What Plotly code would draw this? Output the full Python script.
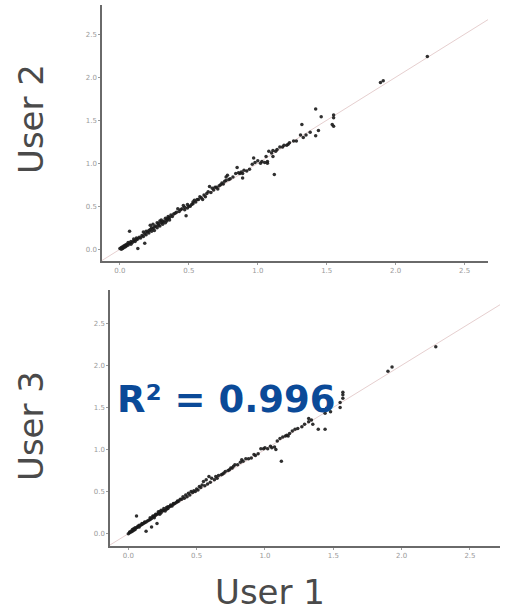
import plotly.graph_objects as go

# ---- data: top panel (User 1 vs User 2) ----
user1_a = [2.23, 1.89, 1.91, 1.42, 1.46, 1.55, 1.55, 1.54, 1.55, 1.32, 1.44, 1.42, 1.38, 1.31, 1.33,
           1.28, 1.23, 1.22, 1.19, 1.16, 1.14, 1.11, 1.08, 1.06, 1.11, 1.12, 1.00, 1.02, 1.05, 1.07,
           1.07, 0.97, 0.94, 0.92, 0.85, 0.87, 0.89, 0.89, 0.88, 0.84, 0.78, 0.77, 0.79, 0.76, 0.75,
           0.73, 0.72, 0.70, 0.68, 0.67, 0.65, 0.64, 0.63, 0.61, 0.58, 0.56, 0.54, 0.53, 0.53, 0.51,
           0.50, 0.47, 0.46, 0.44, 0.42, 0.41, 0.39, 0.48, 0.37, 0.35, 0.33, 0.30, 0.29, 0.27, 0.24,
           0.22, 0.00, 0.01, 0.01, 0.02, 0.02, 0.03, 0.03, 0.04, 0.04, 0.05, 0.05, 0.06, 0.06, 0.07,
           0.07, 0.08, 0.08, 0.09, 0.10, 0.10, 0.11, 0.12, 0.12, 0.13, 0.13, 0.14, 0.15, 0.16, 0.17,
           0.17, 0.18, 0.18, 0.19, 0.19, 0.20, 0.21, 0.21, 0.22, 0.23, 0.23, 0.24, 0.25, 0.25, 0.26,
           0.27, 0.28, 0.28, 0.29, 0.30, 0.31, 0.31, 0.32, 0.33, 0.34, 0.34, 0.35, 0.36, 0.36, 0.38,
           0.40, 0.43, 0.45, 0.47, 0.49, 0.49, 0.52, 0.55, 0.57, 0.59, 0.60, 0.62, 0.66, 0.69, 0.71,
           0.74, 0.77, 0.80, 0.82, 0.86, 0.90, 0.96, 0.98, 1.03, 1.10, 1.13, 1.18, 1.21, 1.26, 1.35]
user2 = [2.24, 1.94, 1.96, 1.63, 1.54, 1.56, 1.53, 1.45, 1.43, 1.45, 1.38, 1.32, 1.36, 1.33, 1.30,
         1.26, 1.24, 1.22, 1.21, 1.19, 1.16, 1.15, 1.14, 1.08, 1.08, 0.87, 1.03, 1.00, 1.01, 1.02,
         1.00, 1.06, 0.93, 0.91, 0.95, 0.88, 0.88, 0.83, 0.90, 0.88, 0.86, 0.84, 0.81, 0.79, 0.76,
         0.75, 0.74, 0.72, 0.69, 0.71, 0.73, 0.67, 0.65, 0.63, 0.61, 0.58, 0.57, 0.55, 0.53, 0.50,
         0.50, 0.49, 0.51, 0.46, 0.47, 0.43, 0.41, 0.39, 0.40, 0.38, 0.36, 0.34, 0.33, 0.31, 0.29,
         0.28, 0.01, 0.02, 0.00, 0.03, 0.01, 0.04, 0.02, 0.05, 0.03, 0.06, 0.04, 0.08, 0.05, 0.07,
         0.21, 0.09, 0.06, 0.08, 0.10, 0.12, 0.09, 0.11, 0.13, 0.01, 0.12, 0.14, 0.13, 0.16, 0.15,
         0.20, 0.07, 0.18, 0.21, 0.17, 0.20, 0.22, 0.19, 0.23, 0.21, 0.25, 0.24, 0.26, 0.22, 0.27,
         0.25, 0.28, 0.30, 0.27, 0.31, 0.29, 0.32, 0.33, 0.31, 0.35, 0.33, 0.36, 0.34, 0.37, 0.38,
         0.42, 0.44, 0.47, 0.46, 0.48, 0.52, 0.52, 0.55, 0.58, 0.60, 0.58, 0.61, 0.66, 0.72, 0.70,
         0.77, 0.80, 0.82, 0.84, 0.89, 0.92, 0.99, 1.01, 1.02, 1.12, 1.14, 1.19, 1.21, 1.26, 1.33]

# ---- data: bottom panel (User 1 vs User 3) ----
user1_b = [2.25, 1.90, 1.93, 1.57, 1.57, 1.57, 1.55, 1.55, 1.45, 1.48, 1.44, 1.32, 1.34, 1.32, 1.35,
           1.39, 1.44, 1.29, 1.24, 1.22, 1.20, 1.18, 1.17, 1.15, 1.13, 1.11, 1.12, 1.08, 1.07, 1.05,
           1.02, 0.99, 0.97, 0.95, 0.93, 0.90, 0.88, 0.84, 0.83, 0.78, 0.77, 0.76, 0.74, 0.71, 0.69,
           0.66, 0.64, 0.61, 0.59, 0.57, 0.55, 0.54, 0.52, 0.50, 0.48, 0.46, 0.44, 0.42, 0.41, 0.40,
           0.38, 0.36, 0.33, 0.31, 0.29, 0.26, 0.24, 0.22, 0.20, 0.18, 0.16, 0.00, 0.01, 0.01, 0.02,
           0.02, 0.03, 0.03, 0.04, 0.04, 0.05, 0.05, 0.06, 0.06, 0.07, 0.07, 0.08, 0.08, 0.09, 0.10,
           0.10, 0.11, 0.12, 0.12, 0.13, 0.13, 0.14, 0.15, 0.16, 0.17, 0.17, 0.18, 0.19, 0.19, 0.20,
           0.21, 0.21, 0.22, 0.23, 0.23, 0.24, 0.25, 0.26, 0.27, 0.28, 0.28, 0.29, 0.30, 0.31, 0.32,
           0.33, 0.34, 0.35, 0.36, 0.37, 0.39, 0.43, 0.45, 0.47, 0.49, 0.51, 0.53, 0.56, 0.58, 0.60,
           0.63, 0.65, 0.68, 0.70, 0.73, 0.75, 0.80, 0.82, 0.86, 0.92, 1.00, 1.04, 1.09, 1.16, 1.27]
user3 = [2.22, 1.93, 1.98, 1.68, 1.65, 1.61, 1.56, 1.50, 1.49, 1.45, 1.43, 1.37, 1.35, 1.33, 1.30,
         1.24, 1.24, 1.30, 1.25, 1.24, 1.22, 1.19, 1.16, 1.16, 1.15, 1.13, 0.86, 1.00, 1.03, 1.02,
         1.01, 1.01, 1.01, 0.95, 0.93, 0.90, 0.89, 0.86, 0.88, 0.82, 0.80, 0.78, 0.76, 0.74, 0.71,
         0.69, 0.68, 0.66, 0.68, 0.64, 0.62, 0.58, 0.56, 0.53, 0.51, 0.50, 0.48, 0.46, 0.42, 0.44,
         0.41, 0.39, 0.36, 0.34, 0.32, 0.30, 0.28, 0.26, 0.23, 0.21, 0.19, 0.00, 0.01, 0.02, 0.02,
         0.03, 0.03, 0.05, 0.04, 0.06, 0.05, 0.07, 0.21, 0.07, 0.08, 0.09, 0.08, 0.10, 0.10, 0.11,
         0.12, 0.12, 0.13, 0.14, 0.03, 0.14, 0.15, 0.16, 0.17, 0.08, 0.18, 0.20, 0.19, 0.21, 0.22,
         0.12, 0.23, 0.24, 0.23, 0.26, 0.25, 0.27, 0.28, 0.27, 0.29, 0.31, 0.30, 0.32, 0.33, 0.33,
         0.35, 0.36, 0.37, 0.38, 0.39, 0.41, 0.44, 0.46, 0.49, 0.50, 0.52, 0.55, 0.57, 0.59, 0.61,
         0.64, 0.66, 0.70, 0.72, 0.75, 0.78, 0.82, 0.85, 0.89, 0.94, 1.02, 1.04, 1.10, 1.17, 1.27]

identity_line = [-0.5, 3.5]
ticks = [0.0, 0.5, 1.0, 1.5, 2.0, 2.5]
tick_text = ["0.0", "0.5", "1.0", "1.5", "2.0", "2.5"]
r2_label = "R² = 0.996"

W, H = 512, 614
fig = go.Figure()

marker = dict(color="#1a1a1a", size=3.5, opacity=0.9)
line_style = dict(color="#e6cfcf", width=1)

fig.add_trace(go.Scatter(x=identity_line, y=identity_line, mode="lines", line=line_style,
                         xaxis="x", yaxis="y", hoverinfo="skip"))
fig.add_trace(go.Scatter(x=user1_a, y=user2, mode="markers", marker=marker, xaxis="x", yaxis="y"))
fig.add_trace(go.Scatter(x=identity_line, y=identity_line, mode="lines", line=line_style,
                         xaxis="x2", yaxis="y2", hoverinfo="skip"))
fig.add_trace(go.Scatter(x=user1_b, y=user3, mode="markers", marker=marker, xaxis="x2", yaxis="y2"))

tickfont = dict(family="DejaVu Sans", size=7, color="#9a9a9a")
axis_common = dict(showgrid=False, zeroline=False, showline=True, linecolor="#6a6a6a", linewidth=1.5,
                   ticks="outside", ticklen=2, tickcolor="#9a9a9a", tickvals=ticks, ticktext=tick_text,
                   tickfont=tickfont, fixedrange=True)

label_font = dict(family="DejaVu Sans", size=34, color="#4a4a4a")

fig.update_layout(
    width=W, height=H,
    margin=dict(l=0, r=0, t=0, b=0),
    paper_bgcolor="white", plot_bgcolor="white",
    showlegend=False,
    xaxis=dict(domain=[102 / W, 488 / W], range=[-0.13, 2.67], anchor="y", **axis_common),
    yaxis=dict(domain=[1 - 261 / H, 1 - 5 / H], range=[-0.136, 2.84], anchor="x", **axis_common),
    xaxis2=dict(domain=[110 / W, 500 / W], range=[-0.134, 2.72], anchor="y2", **axis_common),
    yaxis2=dict(domain=[1 - 546 / H, 1 - 290 / H], range=[-0.146, 2.895], anchor="x2", **axis_common),
    annotations=[
        dict(text="User 2", x=31 / W, y=1 - 119 / H, xref="paper", yref="paper", showarrow=False,
             xanchor="center", yanchor="middle", textangle=-90, font=label_font),
        dict(text="User 3", x=31 / W, y=1 - 426 / H, xref="paper", yref="paper", showarrow=False,
             xanchor="center", yanchor="middle", textangle=-90, font=label_font),
        dict(text="User 1", x=269.5 / W, y=0, xref="paper", yref="paper", showarrow=False,
             xanchor="center", yanchor="bottom", font=label_font),
        dict(text=r2_label, x=226 / W, y=1 - 399 / H, xref="paper", yref="paper", showarrow=False,
             xanchor="center", yanchor="middle",
             font=dict(family="DejaVu Sans", size=37, color="#0b4a98", weight="bold")),
    ],
)

fig.write_html("out.html", post_script="document.body.style.margin='0';",
               config={"displayModeBar": False})
